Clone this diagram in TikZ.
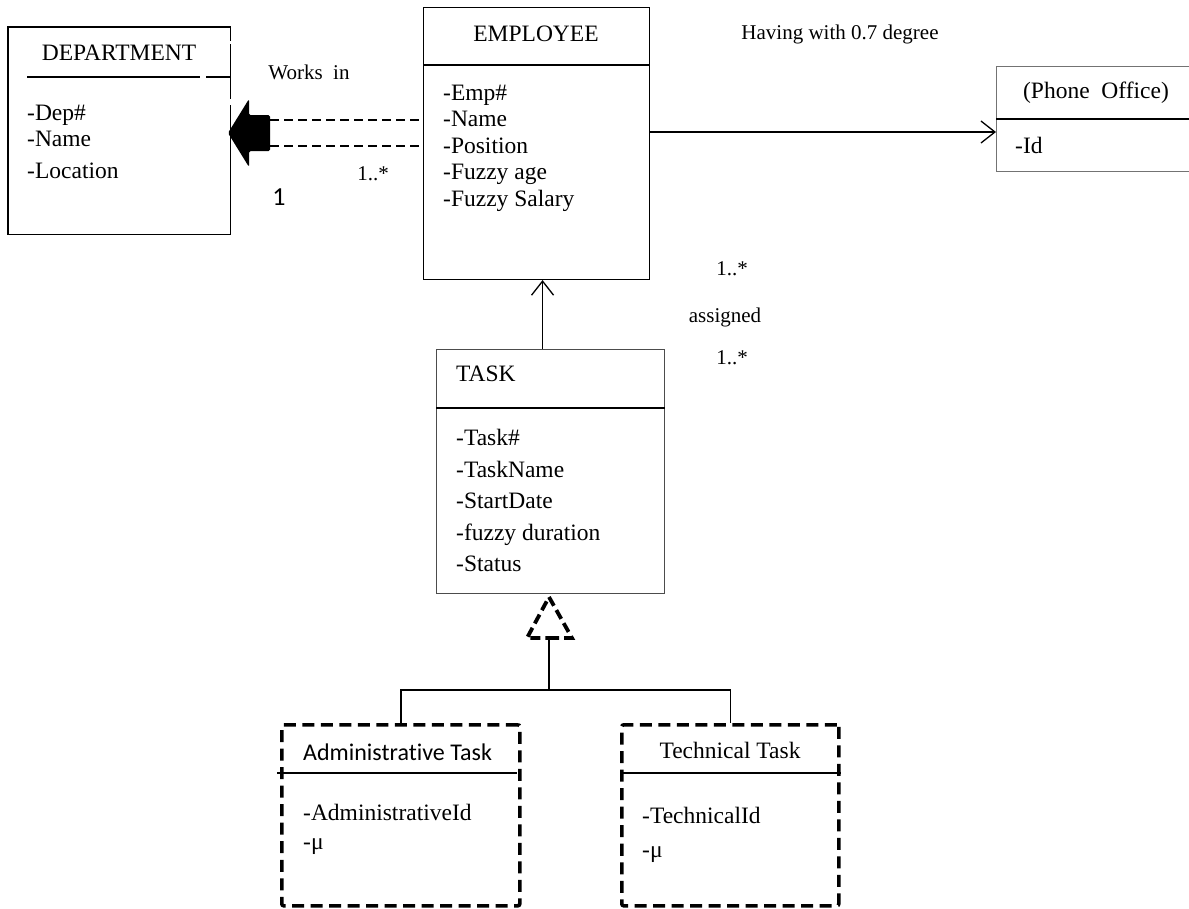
\documentclass[tikz,border=0pt]{standalone}
\usepackage{fontspec}
\setmainfont{Liberation Serif}
\newfontfamily\calfont[Ligatures=NoCommon]{Carlito}
\usetikzlibrary{arrows.meta,calc}
\begin{document}
\begin{tikzpicture}[x=1pt,y=-1pt,
  box/.style={draw=black, line width=1.1pt, inner sep=0pt, anchor=north west},
  graybox/.style={draw=black!55, line width=1.1pt, inner sep=0pt, anchor=north west},
  dbox/.style={draw=black, line width=3.6pt, dash pattern=on 12pt off 6.5pt, rounded corners=2pt, inner sep=0pt, anchor=north west},
  sep/.style={line width=2.6pt},
  txt/.style={inner sep=0pt, font=\fontsize{23.5}{27}\selectfont},
  attr/.style={txt, anchor=base west},
  ttl/.style={txt, anchor=base},
  lbl/.style={inner sep=0pt, anchor=base, font=\fontsize{21}{25}\selectfont},
  openarrow/.style={line width=1.3pt, -{Straight Barb[length=14pt,width=22pt,line width=1.3pt]}},
  dline/.style={line width=1.3pt, dash pattern=on 9pt off 5pt}
]
\useasboundingbox (0,0) rectangle (1189,908);

% ---------------- DEPARTMENT ----------------
\node[inner sep=0pt, anchor=north west, minimum width=222pt, minimum height=207pt] (dep) at (8,27) {};
\draw[line width=1.1pt] ($(dep.north east)+(0,14)$) -- (dep.north east) -- (dep.north west) -- (dep.south west) -- (dep.south east) -- ($(dep.south east)+(0,-129)$);
\draw[line width=1.1pt] ($(dep.north east)+(0,17)$) -- ($(dep.north east)+(0,72)$);
\draw[sep] (27,77) -- (200,77);
\draw[sep] (206,77) -- (dep.east |- 0,77);
\node[ttl] (depT) at (119,60) {DEPARTMENT};
\node[attr] (dep1) at (27,120) {-Dep\#};
\node[attr] (dep2) at (27,146) {-Name};
\node[attr] (dep3) at (27,178) {-Location};

% ---------------- EMPLOYEE ----------------
\node[box, minimum width=226pt, minimum height=272pt] (emp) at (423,7) {};
\draw[sep] (emp.west |- 0,65) -- (emp.east |- 0,65);
\node[ttl] (empT) at (536,41) {EMPLOYEE};
\node[attr] (emp1) at (443,100) {-Emp\#};
\node[attr] (emp2) at (443,126) {-Name};
\node[attr] (emp3) at (443,153) {-Position};
\node[attr] (emp4) at (443,179) {-Fuzzy age};
\node[attr] (emp5) at (443,206) {-Fuzzy Salary};

% ---------------- PHONE OFFICE ----------------
\node[graybox, minimum width=210pt, minimum height=105pt] (ph) at (996,66) {};
\draw[sep] (ph.west |- 0,119) -- (ph.east |- 0,119);
\node[ttl] (phT) at (1096,98) {(Phone\ \ Office)};
\node[attr] (ph1) at (1015,153) {-Id};

% ---------------- TASK ----------------
\node[box, draw=black!70, minimum width=228pt, minimum height=244pt] (task) at (436,349) {};
\draw[sep] (task.west |- 0,408) -- (task.east |- 0,408);
\node[attr] (taskT) at (456,381) {TASK};
\node[attr] (t1) at (456,445) {-Task\#};
\node[attr] (t2) at (456,477) {-TaskName};
\node[attr] (t3) at (456,508) {-StartDate};
\node[attr] (t4) at (456,540) {-fuzzy duration};
\node[attr] (t5) at (456,571) {-Status};

% ---------------- SUBCLASSES ----------------
\node[dbox, minimum width=238pt, minimum height=181pt] (adm) at (280,723) {};
\draw[line width=2pt] (277,773) -- (517,773);
\node[inner sep=0pt, anchor=base west, font=\calfont\fontsize{24}{28}\selectfont] (admT) at (303,760) {Administrative Task};
\node[attr] (a1) at (303,820) {-AdministrativeId};
\node[attr] (a2) at (303,849) {-μ};

\node[dbox, minimum width=217pt, minimum height=181pt] (tech) at (620,723) {};
\draw[sep] (tech.west |- 0,773) -- (tech.east |- 0,773);
\node[ttl] (techT) at (730,758) {Technical Task};
\node[attr] (c1) at (642,823) {-TechnicalId};
\node[attr] (c2) at (642,857) {-μ};

% ---------------- Generalization ----------------
\coordinate (apex) at (549,597);
\coordinate (tb) at (549,638);
\coordinate (gj) at (549,690);
\draw[line width=3.8pt, dash pattern=on 10pt off 5pt, line join=miter] (tb) -- (572,638) -- (apex) -- (527,638) -- cycle;
\draw[line width=1.4pt] (tb) -- (gj);
\draw[line width=1.4pt] (adm.north) |- (gj) -| (tech.north);

% ---------------- Works in (fat arrow) ----------------
\fill[rounded corners=1.5pt] (228,133) -- (249,99) -- (249,115) -- (270,115) -- (270,151) -- (249,151) -- (249,167) -- cycle;
\coordinate (fatA) at (270,120);
\coordinate (fatB) at (270,146);
\draw[dline] (fatA) -- (fatA -| emp.west);
\draw[dline] (fatB) -- (fatB -| emp.west);
\node[lbl] (works) at (309,79) {Works\ \ in};
\node[lbl] (m1) at (373,180) {1..*};
\node[inner sep=0pt, anchor=base, font=\calfont\fontsize{26}{30}\selectfont] (m2) at (279,205) {1};

% ---------------- Having ----------------
\draw[openarrow] ($(emp.north east)+(0,125)$) -- ($(ph.north west)+(0,66)$);
\node[lbl] (having) at (840,39) {Having with 0.7 degree};

% ---------------- assigned ----------------
\draw[openarrow] ($(task.north)+(-8,0)$) -- ($(emp.south)+(6,0)$);
\node[lbl] (m3) at (732,275) {1..*};
\node[lbl] (assigned) at (725,322) {assigned};
\node[lbl] (m4) at (732,364) {1..*};
\end{tikzpicture}
\end{document}
